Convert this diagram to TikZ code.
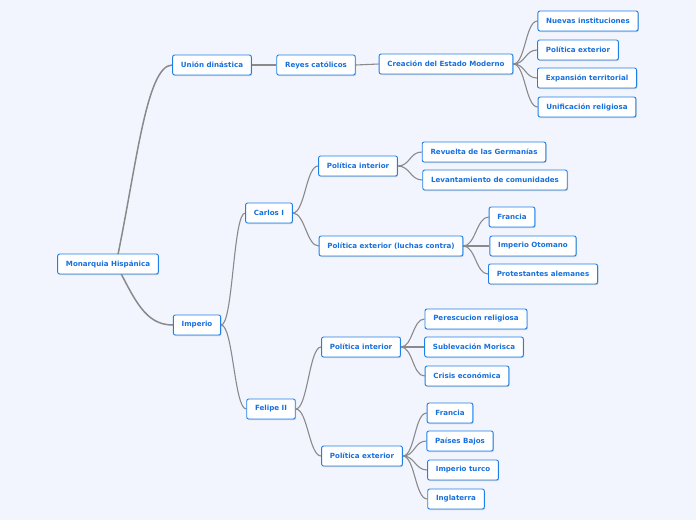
\documentclass[tikz,border=0pt]{standalone}
\usepackage{fontspec}
\setmainfont{DejaVu Sans}
\usepackage{tikz}
\pgfdeclarelayer{canvas}
\pgfdeclarelayer{background}
\pgfsetlayers{canvas,background,main}
\usetikzlibrary{shadows}
\definecolor{bgblue}{RGB}{242,245,253}
\definecolor{boxblue}{RGB}{30,128,232}
\definecolor{textblue}{RGB}{24,112,220}
\definecolor{linegray}{RGB}{138,138,140}

\begin{document}
\begin{tikzpicture}[
    x=1pt, y=-1pt,
    font=\fontsize{7.1}{8.5}\selectfont\bfseries,
    topic/.style={draw=boxblue, fill=white, text=textblue, rounded corners=2pt,
        line width=0.9pt, inner xsep=8.3pt, minimum height=20pt, align=center,
        drop shadow={shadow xshift=0.8pt, shadow yshift=-1pt, opacity=0.35}},
    trunk/.style={draw=linegray, line width=1.5pt},
    branch/.style={draw=linegray, line width=1.1pt}
]

\begin{pgfonlayer}{canvas}
\fill[bgblue] (0,0) rectangle (696,520);
\end{pgfonlayer}

% Root
\node[topic] (root) at (108,264) {Monarquia Hispánica};

% Unión dinástica branch
\node[topic] (union) at (212,65) {Unión dinástica};
\node[topic] (reyes) at (316,65) {Reyes católicos};
\node[topic] (estado) at (446,64) {Creación del Estado Moderno};
\node[topic] (e1) at (588,21) {Nuevas instituciones};
\node[topic] (e2) at (578,50) {Política exterior};
\node[topic] (e3) at (587,78) {Expansión territorial};
\node[topic] (e4) at (587,107) {Unificación religiosa};

% Imperio branch
\node[topic] (imperio) at (197,325) {Imperio};

% Carlos I
\node[topic] (carlos) at (269,213) {Carlos I};
\node[topic] (cint) at (358,166) {Política interior};
\node[topic] (cext) at (391,246) {Política exterior (luchas contra)};
\node[topic] (ci1) at (484,152) {Revuelta de las Germanías};
\node[topic] (ci2) at (495,180) {Levantamiento de comunidades};
\node[topic] (ce1) at (512,217) {Francia};
\node[topic] (ce2) at (533,246) {Imperio Otomano};
\node[topic] (ce3) at (543,274) {Protestantes alemanes};

% Felipe II
\node[topic] (felipe) at (271,409) {Felipe II};
\node[topic] (fint) at (361,347) {Política interior};
\node[topic] (fext) at (362,456) {Política exterior};
\node[topic] (fi1) at (476,319) {Perescucion religiosa};
\node[topic] (fi2) at (474,347) {Sublevación Morisca};
\node[topic] (fi3) at (467,376) {Crisis económica};
\node[topic] (fe1) at (450,413) {Francia};
\node[topic] (fe2) at (460,441) {Países Bajos};
\node[topic] (fe3) at (463,470) {Imperio turco};
\node[topic] (fe4) at (456,499) {Inglaterra};

% Connectors
\begin{pgfonlayer}{background}
\draw[trunk] (root.center) ++(8,0) .. controls (136,170) and (146,65) .. (union.west);
\draw[trunk] (root.center) ++(8,0) .. controls (135,300) and (145,325) .. (imperio.west);
\foreach \a/\b in {union/reyes, reyes/estado, estado/e1, estado/e2, estado/e3, estado/e4,
    imperio/carlos, imperio/felipe, carlos/cint, carlos/cext,
    cint/ci1, cint/ci2, cext/ce1, cext/ce2, cext/ce3,
    felipe/fint, felipe/fext, fint/fi1, fint/fi2, fint/fi3,
    fext/fe1, fext/fe2, fext/fe3, fext/fe4}{
    \draw[branch] (\a.east) .. controls +(12,0) and +(-12,0) .. (\b.west);
}
\end{pgfonlayer}

\end{tikzpicture}
\end{document}
